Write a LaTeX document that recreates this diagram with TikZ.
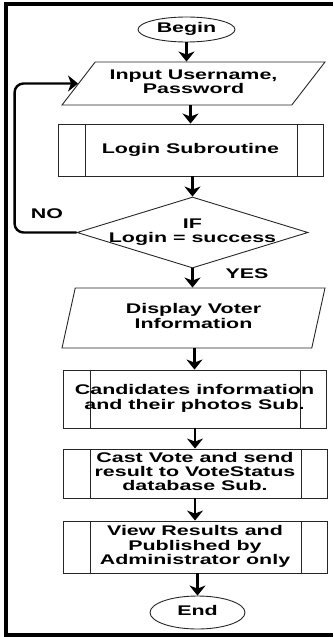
\documentclass[tikz,border=0pt]{standalone}
\usepackage{fontspec}
\setmainfont{Liberation Sans}
\usepackage{graphicx}
\usetikzlibrary{shapes.geometric, arrows.meta}

% wide bold caption text, one or more centred lines
\newcommand{\widetext}[1]{\scalebox{1.53}[1]{\begin{tabular}{@{}c@{}}#1\end{tabular}}}

\tikzset{
  basefont/.style={font=\fontsize{14}{13.5}\selectfont\bfseries},
  shapeline/.style={draw=black!85, line width=0.9pt, inner sep=0pt, basefont},
  terminal/.style={shapeline, ellipse},
  iobox/.style={shapeline, trapezium, trapezium stretches body},
  decision/.style={shapeline, diamond},
  subr/.style={shapeline, rectangle,
    path picture={
      \draw[black!85, line width=0.9pt]
        ([xshift=27pt]path picture bounding box.north west) --
        ([xshift=27pt]path picture bounding box.south west)
        ([xshift=-26pt]path picture bounding box.north east) --
        ([xshift=-26pt]path picture bounding box.south east);
    }},
  flow/.style={line width=2.4pt, -{Stealth[length=10pt, width=16pt, inset=3pt]}},
  tag/.style={basefont, inner sep=0pt},
  frame/.style={line width=4pt, black}
}

\begin{document}
\begin{tikzpicture}[x=1pt, y=-1pt]
  \useasboundingbox (0,0) rectangle (333,637);

  % page frame (open on the right)
  \draw[frame] (333,4) -- (6,4) -- (6,635) -- (333,635);

  % flowchart blocks
  \node[terminal, minimum width=97pt, minimum height=25pt] (begin) at (186.5,29.5) {\widetext{Begin}};
  \node[iobox, trapezium left angle=40, trapezium right angle=140,
        minimum width=263pt, minimum height=43pt] (input) at (193.5,83.5)
        {\widetext{Input Username,\\Password}};
  \node[subr, minimum width=265pt, minimum height=52pt] (login) at (190.5,150)
        {\widetext{Login Subroutine}};
  \node[decision, minimum width=231pt, minimum height=71pt,
        label={[tag]center:\widetext{IF\\Login = success}}] (dec) at (192.5,232.5) {};
  \node[iobox, trapezium left angle=65, trapezium right angle=115,
        minimum width=263pt, minimum height=60pt] (disp) at (193.5,318)
        {\widetext{Display Voter\\Information}};
  \node[subr, minimum width=263pt, minimum height=58pt] (cand) at (194.5,399)
        {\widetext{Candidates information\\and their photos Sub.}};
  \node[subr, minimum width=264pt, minimum height=49pt] (cast) at (195,473.5)
        {\widetext{Cast Vote and send\\result to VoteStatus\\database Sub.}};
  \node[subr, minimum width=264pt, minimum height=52pt] (view) at (195,547)
        {\widetext{View Results and\\Published by\\Administrator only}};
  \node[terminal, minimum width=95pt, minimum height=33pt] (end) at (197.5,612.5) {\widetext{End}};

  % branch labels
  \node[tag] (nolbl) at (47,216) {\widetext{NO}};
  \node[tag] (yeslbl) at (247,276) {\widetext{YES}};

  % connectors
  \draw[flow] (begin.south) -- (begin.south |- input.north);
  \draw[flow] (input.south -| login.north) -- (login.north);
  \draw[flow] (login.south -| dec.north) -- (dec.north);
  \draw[flow] (dec.south) -- (dec.south |- disp.north);
  \draw[flow] (disp.south -| cand.north) -- (cand.north);
  \draw[flow] (cand.south -| cast.north) -- (cast.north);
  \draw[flow] (cast.south -| view.north) -- (view.north);
  \draw[flow] (view.south -| end.north) -- (end.north);
  \draw[flow, rounded corners=9pt] (dec.west) -- ++(-62,0) |- (input.west);
\end{tikzpicture}
\end{document}
